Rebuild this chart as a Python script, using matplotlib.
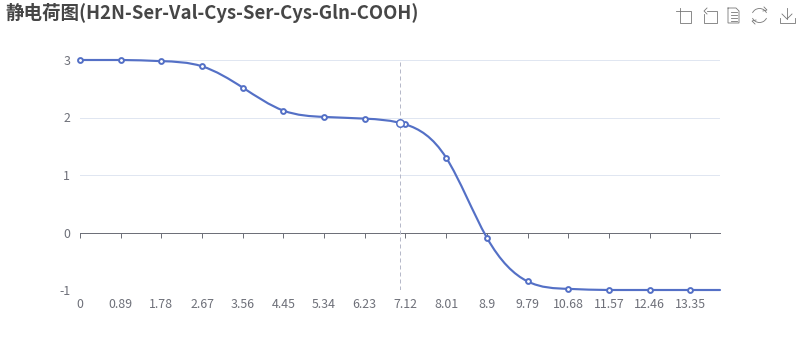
import numpy as np
import matplotlib
matplotlib.use("Agg")
import matplotlib.pyplot as plt
from matplotlib.lines import Line2D
from matplotlib.patches import Arc, PathPatch
from matplotlib.path import Path

plt.rcParams['font.family'] = ['Noto Sans CJK SC', 'DejaVu Sans']

title = "静电荷图(H2N-Ser-Val-Cys-Ser-Cys-Gln-COOH)"
ph = [0, 0.89, 1.78, 2.67, 3.56, 4.45, 5.34, 6.23, 7.12, 8.01, 8.9, 9.79, 10.68, 11.57, 12.46, 13.35, 14.0]
charge = [3.0, 3.0, 2.98, 2.89, 2.52, 2.12, 2.01, 1.98, 1.88, 1.30, -0.09, -0.85, -0.98, -1.0, -1.0, -1.0, -1.0]
x_ticks = [0, 0.89, 1.78, 2.67, 3.56, 4.45, 5.34, 6.23, 7.12, 8.01, 8.9, 9.79, 10.68, 11.57, 12.46, 13.35]
y_ticks = [-1, 0, 1, 2, 3]
hover_ph = 7.0
hover_charge = 1.91

W, H = 800, 360
BLUE = "#5470c6"
GREY = "#6e7079"
SPLIT = "#e0e6f1"


def smooth_path(xs, ys):
    # C2 spline slopes from the tridiagonal system, limited so the flat ends do not overshoot
    xs = np.array(xs, dtype=float)
    ys = np.array(ys, dtype=float)
    n = len(xs)
    h = np.diff(xs)
    d = np.diff(ys) / h
    A = np.zeros((n, n))
    b = np.zeros(n)
    A[0, 0] = A[-1, -1] = 1
    for i in range(1, n - 1):
        A[i, i - 1] = h[i]
        A[i, i] = 2 * (h[i - 1] + h[i])
        A[i, i + 1] = h[i - 1]
        b[i] = 3 * (h[i] * d[i - 1] + h[i - 1] * d[i])
    m = np.linalg.solve(A, b)
    for i in range(1, n - 1):
        limit = 3 * min(abs(d[i - 1]), abs(d[i]))
        m[i] = np.sign(m[i]) * min(abs(m[i]), limit)
    verts = [(xs[0], ys[0])]
    codes = [Path.MOVETO]
    for i in range(n - 1):
        verts += [(xs[i] + h[i] / 3, ys[i] + m[i] * h[i] / 3),
                  (xs[i + 1] - h[i] / 3, ys[i + 1] - m[i + 1] * h[i] / 3),
                  (xs[i + 1], ys[i + 1])]
        codes += [Path.CURVE4] * 3
    return Path(verts, codes)


fig = plt.figure(figsize=(W / 100, H / 100), dpi=100)
ax = fig.add_axes([80 / W, 1 - 290 / H, 640 / W, 230 / H])
ax.set_xlim(0, 14)
ax.set_ylim(-1, 3)
for s in ax.spines.values():
    s.set_visible(False)

ax.set_yticks(y_ticks)
ax.set_xticks(x_ticks)
ax.set_xticklabels([str(t) for t in x_ticks])
ax.set_yticklabels([str(t) for t in y_ticks])
ax.tick_params(axis='y', length=0, labelsize=8.9, labelcolor=GREY, pad=7)
ax.tick_params(axis='x', length=0, labelsize=8.9, labelcolor=GREY, pad=5.5)
for v in y_ticks:
    if v != 0:
        ax.axhline(v, color=SPLIT, lw=0.72, zorder=1)

# zero line with the ticks hanging from it
zero_axis = ax.secondary_xaxis(0.25)
zero_axis.set_xticks(x_ticks)
zero_axis.set_xticklabels([])
zero_axis.tick_params(axis='x', direction='out', length=3.6, width=0.72, color=GREY)
zero_axis.spines['bottom'].set_color(GREY)
zero_axis.spines['bottom'].set_linewidth(0.72)
zero_axis.spines['top'].set_visible(False)

ax.axvline(hover_ph, color="#b6b9c9", lw=0.72, ls=(0, (4, 3)), zorder=2)

ax.add_patch(PathPatch(smooth_path(ph, charge), fill=False, edgecolor=BLUE, lw=1.55,
                       zorder=3, clip_on=False, capstyle='round'))
ax.plot(ph[:-1], charge[:-1], ls='none', marker='o', ms=3.5, mfc='white', mec=BLUE,
        mew=1.4, zorder=4, clip_on=False)
ax.plot([hover_ph], [hover_charge], ls='none', marker='o', ms=5.4, mfc='white', mec=BLUE,
        mew=1.1, zorder=5, clip_on=False)

fig.text(5 / W, 1 - 13 / H, title, fontsize=13.35, fontweight='bold', color="#464646",
         ha='left', va='center')

# toolbox icons, full figure overlay in pixel coordinates
ov = fig.add_axes([0, 0, 1, 1], facecolor='none')
ov.set_xlim(0, W)
ov.set_ylim(H, 0)
ov.axis('off')
ICON = "#777777"
lw = 0.6


def poly(pts):
    ov.add_line(Line2D([p[0] for p in pts], [p[1] for p in pts], color=ICON, lw=lw,
                       solid_joinstyle='miter'))


# zoom
poly([(676, 11), (691, 11), (691, 23), (680, 23), (680, 8)])
# zoom reset
poly([(707, 11), (717, 11), (717, 23), (704, 23), (704, 14)])
poly([(707, 8), (704, 11), (707, 14)])
# data view
poly([(728, 8), (736, 8), (739, 11), (739, 23), (728, 23), (728, 8)])
for yy in (12, 15, 18, 20.5):
    poly([(730.5, yy), (736.5, yy)])
# restore
ov.add_patch(Arc((759.5, 15.5), 15, 14, theta1=200, theta2=340, color=ICON, lw=lw))
ov.add_patch(Arc((759.5, 15.5), 15, 14, theta1=20, theta2=160, color=ICON, lw=lw))
poly([(764, 7), (767, 10), (763, 11)])
poly([(755, 24), (752, 21), (756, 20)])
# save
poly([(787, 8), (787, 19)])
poly([(782, 14), (787, 19), (792, 14)])
poly([(779.5, 18), (779.5, 23), (794.5, 23), (794.5, 18)])

fig.savefig("out.png", dpi=100)
